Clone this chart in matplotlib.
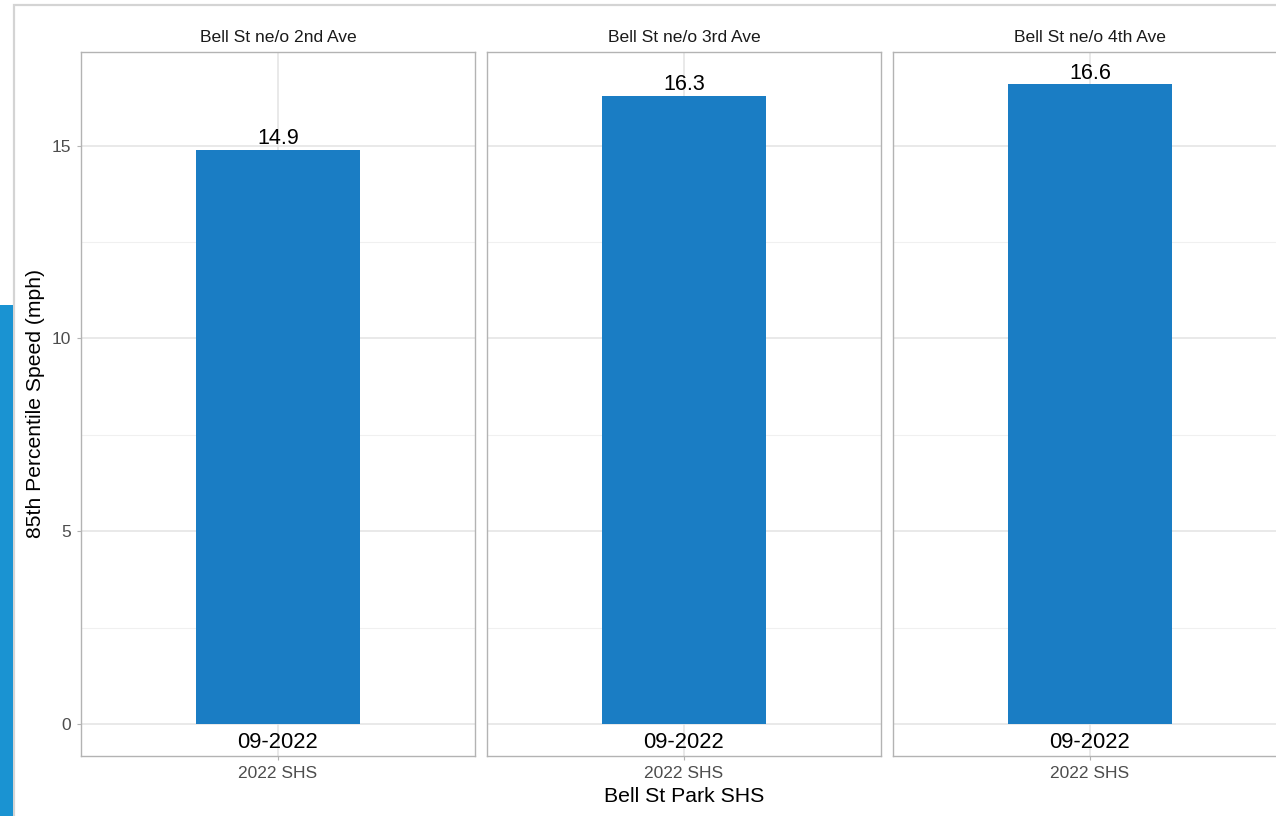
import matplotlib.pyplot as plt
from matplotlib.patches import Rectangle

plt.rcParams['font.family'] = ['Liberation Sans', 'DejaVu Sans']

# Data
locations = ["Bell St ne/o 2nd Ave", "Bell St ne/o 3rd Ave", "Bell St ne/o 4th Ave"]
speeds = [14.9, 16.3, 16.6]
period = "09-2022"
x_cat = "2022 SHS"
y_ticks = [0, 5, 10, 15]
y_minor = [2.5, 7.5, 12.5]

W, H = 1276, 816
fig = plt.figure(figsize=(W / 100, H / 100), dpi=100)

# screenshot decorations: outer frame and blue strip at the left edge
fig.patches.append(Rectangle((14 / W, -0.1), 1.2, 1 - 5 / H + 0.1, transform=fig.transFigure,
                             fill=False, edgecolor='#d4d4d4', linewidth=1.6))
fig.patches.append(Rectangle((0, 0), 13 / W, 1 - 305 / H, transform=fig.transFigure,
                             facecolor='#1a93d2', edgecolor='none'))

bar_color = '#1a7dc4'
border = '#b3b3b3'
grid_major = '#e3e3e3'
grid_minor = '#f0f0f0'

ymax = max(speeds)
ylim = (-0.05 * ymax, ymax * 1.05)

px_left, px_w, gap = 81, 394, 12
px_top, px_bot = 52, 756

for i, (loc, val) in enumerate(zip(locations, speeds)):
    left = px_left + i * (px_w + gap)
    ax = fig.add_axes([left / W, 1 - px_bot / H, px_w / W, (px_bot - px_top) / H])
    ax.set_xlim(-0.6, 0.6)
    ax.set_ylim(*ylim)
    ax.set_axisbelow(True)

    for y in y_minor:
        ax.axhline(y, color=grid_minor, linewidth=0.8, zorder=0)
    for y in y_ticks:
        ax.axhline(y, color=grid_major, linewidth=1.1, zorder=0)
    ax.axvline(0, color=grid_major, linewidth=1.1, zorder=0)

    ax.bar([0], [val], width=0.5, color=bar_color, zorder=2)

    ax.annotate(f"{val:.1f}", (0, val), xytext=(0, 11), textcoords='offset pixels',
                ha='center', va='center', fontsize=15.5, color='black')
    ax.annotate(period, (0, 0), xytext=(0, -19), textcoords='offset pixels',
                ha='center', va='center', fontsize=15.8, color='black')

    ax.set_title(loc, fontsize=12.6, color='#1a1a1a', pad=7)

    for s in ax.spines.values():
        s.set_color(border)
        s.set_linewidth(1.0)

    ax.set_xticks([0])
    ax.set_xticklabels([x_cat], fontsize=12.5, color='#4d4d4d')
    ax.set_yticks(y_ticks)
    ax.tick_params(axis='both', length=3, color=border, pad=4)
    if i == 0:
        ax.set_yticklabels([str(t) for t in y_ticks], fontsize=12.5, color='#4d4d4d')
    else:
        ax.tick_params(axis='y', length=0, labelleft=False)

fig.text(36 / W, 1 - 404 / H, "85th Percentile Speed (mph)", rotation=90,
         ha='center', va='center', fontsize=15.2, color='black')
fig.text(684 / W, 1 - 797 / H, "Bell St Park SHS", ha='center', va='center',
         fontsize=15.3, color='black')

fig.savefig('out.png', dpi=100, facecolor='white')
